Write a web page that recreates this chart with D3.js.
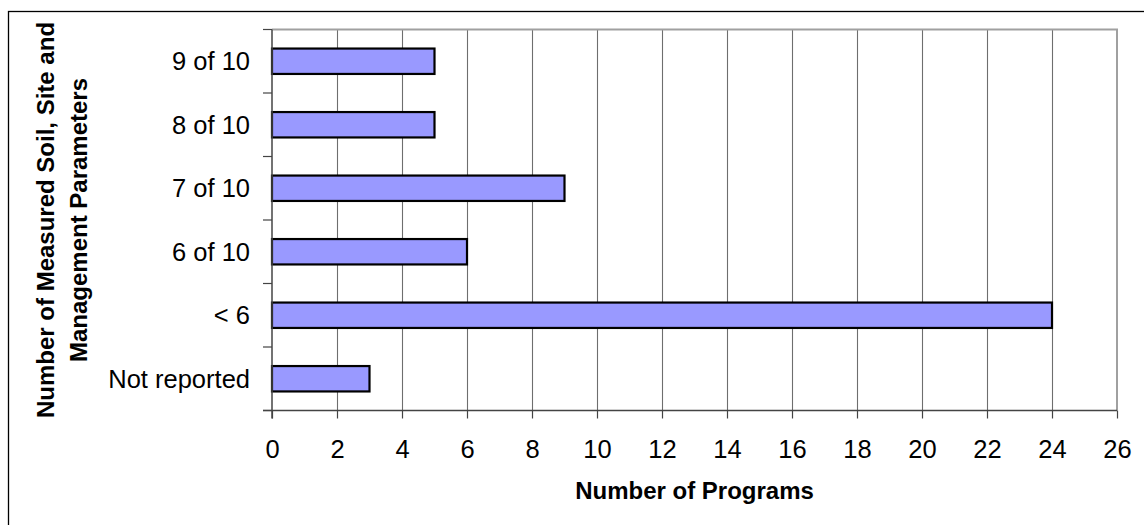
<!DOCTYPE html>
<html>
<head>
<meta charset="utf-8">
<script src="https://cdn.jsdelivr.net/npm/d3@7"></script>
<style>
  html, body { margin: 0; padding: 0; background: #fff; }
  svg { display: block; font-family: "Liberation Sans", Arial, sans-serif; }
</style>
</head>
<body>
<svg id="chart" width="1144" height="525"></svg>
<script>
const categories = ["9 of 10", "8 of 10", "7 of 10", "6 of 10", "< 6", "Not reported"];
const values = [5, 5, 9, 6, 24, 3];
const xTicks = [0, 2, 4, 6, 8, 10, 12, 14, 16, 18, 20, 22, 24, 26];
const xTitle = "Number of Programs";
const yTitleLines = ["Number of Measured Soil, Site and", "Management Parameters"];

const svg = d3.select("#chart");
const plot = { left: 272, right: 1117, top: 29.5, bottom: 410.5 };

// outer chart border (clipped at right/bottom like reference)
svg.append("rect")
  .attr("x", 8.5).attr("y", 11.5).attr("width", 1144).attr("height", 525)
  .attr("fill", "none").attr("stroke", "#000").attr("stroke-width", 1.3);

const x = d3.scaleLinear().domain([0, 26]).range([plot.left, plot.right]);
const y = d3.scaleBand().domain(categories).range([plot.top, plot.bottom])
  .paddingInner(0.6).paddingOuter(0.3);

// gridlines
svg.append("g").selectAll("line").data(xTicks.filter(d => d > 0 && d < 26)).join("line")
  .attr("x1", d => Math.round(x(d)) + 0.5).attr("x2", d => Math.round(x(d)) + 0.5)
  .attr("y1", plot.top).attr("y2", plot.bottom)
  .attr("stroke", "#6e6e6e").attr("stroke-width", 1.1);

// plot frame top/right
svg.append("path")
  .attr("d", `M${plot.left},${plot.top}H${plot.right}V${plot.bottom}`)
  .attr("fill", "none").attr("stroke", "#a0a0a0").attr("stroke-width", 2);

// bars
svg.append("g").selectAll("rect").data(categories).join("rect")
  .attr("x", x(0))
  .attr("y", d => y(d))
  .attr("width", (d, i) => x(values[i]) - x(0))
  .attr("height", y.bandwidth())
  .attr("fill", "#9999ff")
  .attr("stroke", "#000").attr("stroke-width", 2.2);

// x axis
const xAxis = d3.axisBottom(x).tickValues(xTicks).tickSizeInner(8).tickSizeOuter(0).tickPadding(21);
const gx = svg.append("g").attr("transform", `translate(0,${plot.bottom})`).call(xAxis);
gx.select(".domain").remove();
gx.selectAll(".tick line").attr("stroke", "#444").attr("stroke-width", 1.2);
gx.selectAll(".tick text").attr("font-size", 25.5).attr("fill", "#000")
  .attr("font-family", "Liberation Sans, Arial, sans-serif");
svg.append("line").attr("x1", plot.left - 9).attr("x2", plot.right)
  .attr("y1", plot.bottom).attr("y2", plot.bottom)
  .attr("stroke", "#444").attr("stroke-width", 1.5);

// y axis
const step = y.step();
const boundaries = categories.map(c => y(c) - (step - y.bandwidth()) / 2).concat([plot.bottom]);
svg.append("g").selectAll("line").data(boundaries).join("line")
  .attr("x1", plot.left - 9).attr("x2", plot.left)
  .attr("y1", d => d).attr("y2", d => d)
  .attr("stroke", "#444").attr("stroke-width", 1.2);
svg.append("line").attr("x1", plot.left).attr("x2", plot.left)
  .attr("y1", plot.top).attr("y2", plot.bottom + 8)
  .attr("stroke", "#444").attr("stroke-width", 1.5);
svg.append("g").selectAll("text").data(categories).join("text")
  .attr("x", 250).attr("y", d => y(d) + y.bandwidth() / 2)
  .attr("dy", "0.35em").attr("text-anchor", "end")
  .attr("font-size", 25.5).attr("fill", "#000").text(d => d);

// axis titles
svg.append("text").attr("x", (plot.left + plot.right) / 2).attr("y", 499)
  .attr("text-anchor", "middle").attr("font-size", 24).attr("font-weight", "bold")
  .text(xTitle);
const yCenter = (plot.top + plot.bottom) / 2;
svg.append("g").selectAll("text").data(yTitleLines).join("text")
  .attr("transform", (d, i) => `translate(${54 + i * 32.5},${yCenter}) rotate(-90)`)
  .attr("text-anchor", "middle").attr("font-size", 24).attr("font-weight", "bold")
  .text(d => d);
</script>
</body>
</html>
